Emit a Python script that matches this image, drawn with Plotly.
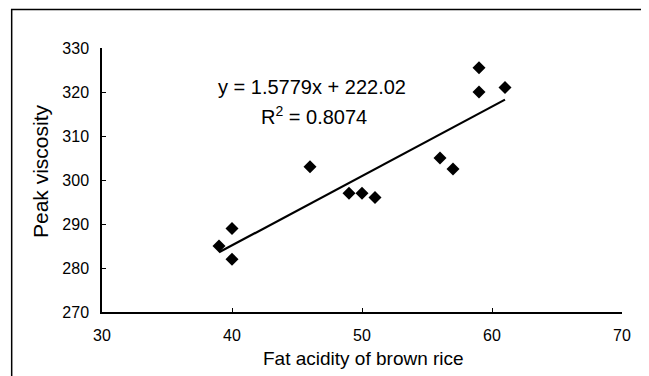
import plotly.graph_objects as go

# Data
fat_acidity = [39, 40, 40, 46, 49, 50, 51, 56, 57, 59, 59, 61]
peak_viscosity = [285, 289, 282, 303, 297, 297, 296, 305, 302.5, 325.5, 320, 321]

# Linear trendline coefficients (as printed on the chart)
slope = 1.5779
intercept = 222.02
r_squared = 0.8074

x_ticks = [30, 40, 50, 60, 70]
y_ticks = [270, 280, 290, 300, 310, 320, 330]

x_title = "Fat acidity of brown rice"
y_title = "Peak viscosity"

FONT = "Liberation Sans, Arial, sans-serif"

trend_x = [min(fat_acidity), max(fat_acidity)]
trend_y = [slope * v + intercept for v in trend_x]

fig = go.Figure()
fig.add_trace(go.Scatter(
    x=trend_x, y=trend_y, mode="lines",
    line=dict(color="black", width=2.2), showlegend=False, hoverinfo="skip"))
fig.add_trace(go.Scatter(
    x=fat_acidity, y=peak_viscosity, mode="markers",
    marker=dict(symbol="diamond", size=10, color="black"),
    showlegend=False))

fig.add_annotation(x=46.15, y=321.2, xref="x", yref="y",
                   text=f"y = {slope}x + {intercept:.2f}", showarrow=False,
                   font=dict(family=FONT, size=20, color="black"))
fig.add_annotation(x=46.3, y=314.6, xref="x", yref="y",
                   text=f"R<sup>2</sup> = {r_squared}", showarrow=False,
                   font=dict(family=FONT, size=20, color="black"))

# axis titles
fig.add_annotation(x=0.502, y=-0.176, xref="paper", yref="paper",
                   text=x_title, showarrow=False, xanchor="center", yanchor="middle",
                   font=dict(family=FONT, size=19, color="black"))
fig.add_annotation(x=-0.1192, y=0.534, xref="paper", yref="paper",
                   text=y_title, showarrow=False, textangle=-90,
                   xanchor="center", yanchor="middle",
                   font=dict(family=FONT, size=21, color="black"))

# outer frame
fig.add_shape(type="rect", xref="paper", yref="paper",
              x0=-0.1737, x1=1.0442, y0=-0.40, y1=1.1458,
              line=dict(color="black", width=1.5), layer="below")

fig.update_xaxes(range=[30, 70], tickvals=x_ticks, ticktext=[str(v) for v in x_ticks],
                 showgrid=False, zeroline=False, showline=True, linecolor="black",
                 linewidth=1.5, ticks="inside", ticklen=4, tickcolor="black",
                 ticklabelstandoff=8,
                 tickfont=dict(family=FONT, size=16, color="black"))
fig.update_yaxes(range=[270, 330], tickvals=y_ticks, ticktext=[str(v) for v in y_ticks],
                 showgrid=False, zeroline=False, showline=True, linecolor="black",
                 linewidth=1.5, ticks="inside", ticklen=4, tickcolor="black",
                 ticklabelstandoff=8,
                 tickfont=dict(family=FONT, size=16, color="black"))

fig.update_layout(width=641, height=368,
                  margin=dict(l=94, r=27, t=40, b=64),
                  paper_bgcolor="white", plot_bgcolor="white")

fig.write_html("out.html")
